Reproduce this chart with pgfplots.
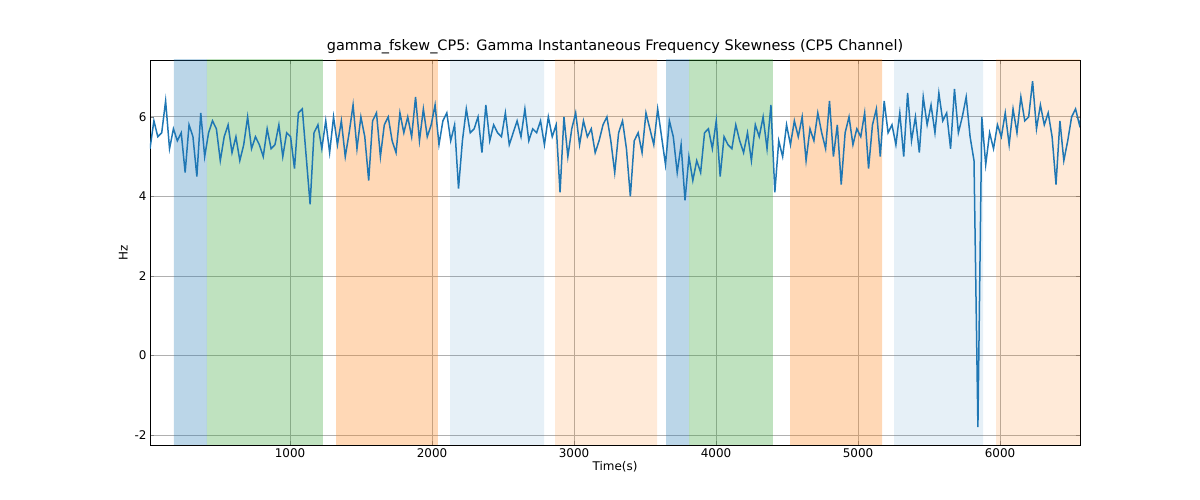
\documentclass[border=0pt]{standalone}
\usepackage{pgfplots}
\usepackage{pgfplotstable}
\pgfplotsset{compat=1.18}
\usepackage{fontspec}
\setmainfont{DejaVu Sans}
\pgfplotstableread[row sep=\\]{
y\\
5.2\\ 5.9\\ 5.5\\ 5.6\\ 6.4\\ 5.2\\ 5.7\\ 5.4\\ 5.6\\ 4.6\\ 5.8\\ 5.5\\ 4.5\\ 6.1\\ 5.0\\
5.6\\ 5.9\\ 5.7\\ 4.9\\ 5.5\\ 5.8\\ 5.1\\ 5.5\\ 4.9\\ 5.3\\ 6.0\\ 5.2\\ 5.5\\ 5.3\\ 5.0\\
5.7\\ 5.2\\ 5.3\\ 5.8\\ 5.0\\ 5.6\\ 5.5\\ 4.7\\ 6.1\\ 6.2\\ 5.0\\ 3.8\\ 5.6\\ 5.8\\ 5.2\\
5.9\\ 5.1\\ 6.0\\ 5.3\\ 5.9\\ 5.0\\ 5.6\\ 6.3\\ 5.2\\ 6.0\\ 5.5\\ 4.4\\ 5.9\\ 6.1\\ 5.0\\
5.8\\ 6.0\\ 5.4\\ 5.1\\ 6.1\\ 5.6\\ 6.0\\ 5.5\\ 6.5\\ 5.4\\ 6.2\\ 5.5\\ 5.8\\ 6.3\\ 5.3\\
5.9\\ 6.1\\ 5.4\\ 5.8\\ 4.2\\ 5.4\\ 6.2\\ 5.6\\ 5.7\\ 6.0\\ 5.1\\ 6.3\\ 5.4\\ 5.8\\ 5.6\\
5.5\\ 6.1\\ 5.3\\ 5.6\\ 5.9\\ 5.5\\ 6.2\\ 5.4\\ 5.7\\ 5.6\\ 5.9\\ 5.3\\ 6.0\\ 5.5\\ 5.8\\
4.1\\ 6.0\\ 5.0\\ 5.7\\ 6.1\\ 5.3\\ 5.9\\ 5.5\\ 5.7\\ 5.1\\ 5.4\\ 5.8\\ 6.0\\ 5.4\\ 4.6\\
5.6\\ 5.9\\ 5.2\\ 4.0\\ 5.4\\ 5.6\\ 5.1\\ 6.1\\ 5.7\\ 5.3\\ 6.2\\ 5.5\\ 4.8\\ 5.9\\ 5.5\\
4.6\\ 5.3\\ 3.9\\ 5.0\\ 4.4\\ 4.9\\ 4.6\\ 5.6\\ 5.7\\ 5.2\\ 5.9\\ 4.5\\ 5.5\\ 5.3\\ 5.2\\
5.8\\ 5.4\\ 5.1\\ 5.6\\ 4.9\\ 5.8\\ 5.5\\ 6.0\\ 5.2\\ 6.3\\ 4.1\\ 5.4\\ 5.0\\ 5.8\\ 5.3\\
5.9\\ 5.5\\ 6.0\\ 4.9\\ 5.7\\ 5.4\\ 6.1\\ 5.6\\ 5.2\\ 6.4\\ 5.0\\ 5.8\\ 4.3\\ 5.6\\ 6.0\\
5.3\\ 5.7\\ 5.5\\ 6.1\\ 4.7\\ 5.8\\ 6.2\\ 5.0\\ 6.4\\ 5.6\\ 5.8\\ 5.3\\ 6.1\\ 5.0\\ 6.6\\
5.4\\ 6.0\\ 5.1\\ 6.5\\ 5.8\\ 6.3\\ 5.6\\ 6.6\\ 5.9\\ 6.1\\ 5.2\\ 6.7\\ 5.6\\ 6.0\\ 6.5\\
5.5\\ 4.9\\ -1.8\\ 6.0\\ 4.8\\ 5.6\\ 5.2\\ 5.8\\ 5.5\\ 6.1\\ 5.3\\ 6.2\\ 5.6\\ 6.5\\ 5.9\\
6.0\\ 6.9\\ 5.7\\ 6.3\\ 5.8\\ 6.1\\ 5.5\\ 4.3\\ 5.9\\ 4.9\\ 5.4\\ 6.0\\ 6.2\\ 5.8\\ 6.2\\ 5.9\\ 5.8\\ 6.1\\
}\data
\definecolor{cb}{HTML}{1F77B4}
\definecolor{cg}{HTML}{2CA02C}
\definecolor{co}{HTML}{FF7F0E}
\begin{document}
\begin{tikzpicture}
\path[use as bounding box] (-150bp,-55bp) rectangle (1050bp,445bp);
\begin{axis}[at={(0,0)},anchor=south west,scale only axis,
width=930bp,height=385bp,xmin=14,xmax=6563,ymin=-2.25,ymax=7.43,
grid=major,grid style={color=black!31,line width=0.8bp},
xtick={1000,2000,...,6000},ytick={-2,0,2,4,6},
title={gamma\_fskew\_CP5: Gamma Instantaneous Frequency Skewness (CP5 Channel)},
xlabel={Time(s)},ylabel={Hz},
tick label style={font=\fontsize{12}{14}\selectfont},label style={font=\fontsize{12}{14}\selectfont},
title style={font=\fontsize{14.5}{17}\selectfont,yshift=-3bp},
xlabel style={yshift=3bp},
/pgf/number format/assume math mode=true,
scaled x ticks=false,
xticklabel style={/pgf/number format/1000 sep={}},
clip=true]
\def\reg#1#2#3#4{\addplot[draw=none,fill=#3,fill opacity=#4] coordinates {(#1,-3) (#2,-3) (#2,8) (#1,8)} \closedcycle;}
\reg{183}{415}{cb}{0.3}
\reg{415}{1232}{cg}{0.3}
\reg{1324}{2042}{co}{0.3}
\reg{2127}{2789}{cb}{0.11}
\reg{2866}{3585}{co}{0.16}
\reg{3648}{3810}{cb}{0.3}
\reg{3810}{4401}{cg}{0.3}
\reg{4521}{5169}{co}{0.3}
\reg{5254}{5880}{cb}{0.11}
\reg{5972}{6563}{co}{0.16}
\addplot[cb,line width=1.5bp] table[x expr=\coordindex*27.5+14,y=y] {\data};
\end{axis}
\end{tikzpicture}
\end{document}
